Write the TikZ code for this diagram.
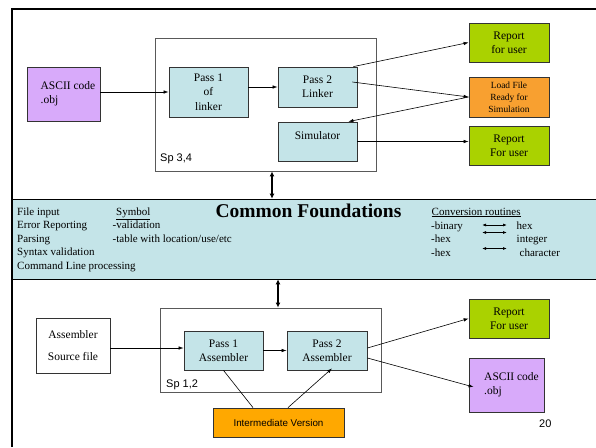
\documentclass[tikz,border=0pt]{standalone}
\usepackage{fontspec}
\setmainfont{Liberation Serif}
\newfontfamily\arialf{Liberation Sans}
\usetikzlibrary{arrows.meta,calc}
\definecolor{lightcyan}{RGB}{196,228,232}
\definecolor{lilac}{RGB}{216,170,250}
\definecolor{lime}{RGB}{170,210,0}
\definecolor{amber}{RGB}{248,160,48}
\definecolor{gold}{RGB}{255,168,0}
\begin{document}
\begin{tikzpicture}[x=1pt,y=-1pt,
  box/.style={draw=black!80, line width=0.8pt, inner sep=0pt, align=center,
    font=\fontsize{11.5}{14.3}\selectfont},
  passbox/.style={box, fill=lightcyan},
  userbox/.style={box, fill=lime, minimum width=80pt, minimum height=39pt},
  objbox/.style={box, fill=lilac, minimum height=54pt, align=left},
  container/.style={draw=black!65, line width=0.9pt, inner sep=0pt},
  flow/.style={line width=0.6pt, -{Latex[length=5pt,width=3.5pt]}},
  link/.style={line width=0.6pt},
  twoway/.style={line width=1.6pt, {Latex[length=5pt,width=5pt]}-{Latex[length=5pt,width=5pt]}},
  conv/.style={line width=0.8pt, {Latex[length=4pt,width=3pt]}-{Latex[length=4pt,width=3pt]}},
  bandtext/.style={anchor=base west, inner sep=0pt, font=\fontsize{11}{13.5}\selectfont},
  sans/.style={inner sep=0pt, font=\arialf\fontsize{11}{13}\selectfont}
]
\useasboundingbox (0,0) rectangle (596,447);

% slide frame
\draw[line width=2.2pt] (12,447) -- (12,9) -- (596,9);

% shared band
\node[draw=black, line width=0.7pt, fill=lightcyan, minimum width=584pt, minimum height=80pt, inner sep=0pt] (band) at (304,239) {};

% ---------- upper part: linker and simulator ----------
\node[container, minimum width=221pt, minimum height=133pt] (c1) at (265.5,104.5) {};
\node[sans, anchor=base west] (sp34) at (160,161) {Sp 3,4};

\node[objbox, minimum width=73pt] (asc1) at (63.5,94) {\hspace*{9pt}ASCII code\\\hspace*{9pt}.obj};
\node[passbox, minimum width=79pt, minimum height=50pt] (p1l) at (208.5,92) {Pass 1\\of\\linker};
\node[passbox, minimum width=79pt, minimum height=40pt] (p2l) at (317.5,87) {Pass 2\\Linker};
\node[passbox, minimum width=79pt, minimum height=39pt] (sim) at (317.5,141.5) {\raisebox{12pt}{Simulator}};
\node[userbox] (rep1) at (509,42.5) {Report\\for user};
\node[box, fill=amber, minimum width=80pt, minimum height=40pt, font=\fontsize{9.4}{12}\selectfont] (load) at (509,97) {Load File\\Ready for\\Simulation};
\node[userbox] (rep2) at (509,146) {Report\\For user};

\draw[flow] (p1l.west -| asc1.east) -- (p1l.west);
\draw[flow] (p2l.west -| p1l.east) -- (p2l.west);
\draw[flow] ($(p2l.north east)+(-4,0)$) -- (rep1.west);
\draw[flow] ($(p2l.east)+(-5,-5)$) -- (load.west);
\draw[flow] (load.west) -- ($(sim.north east)+(-9,0)$);
\draw[flow] (sim.east) -- (sim.east -| rep2.west);

% link between the upper part and the band
\coordinate (up1) at ($(c1.south)+(6.5,0)$);
\coordinate (up2) at (up1 |- band.north);
\draw[twoway] (up1) -- (up2);

% ---------- band text ----------
\node[bandtext] (t1) at (17,215) {File input};
\node[bandtext] (t2) at (17,228.5) {Error Reporting};
\node[bandtext] (t3) at (17,242) {Parsing};
\node[bandtext] (t4) at (17,255.5) {Syntax validation};
\node[bandtext] (t5) at (17,269) {Command Line processing};

\node[bandtext] (s1) at (116,215) {\underline{Symbol}};
\node[bandtext] (s2) at (112.5,228.5) {-validation};
\node[bandtext] (s3) at (112.5,242) {-table with location/use/etc};

\node[anchor=base, inner sep=0pt, font=\bfseries\fontsize{19.5}{22}\selectfont] (title) at (308.5,217) {Common Foundations};

\node[bandtext] (cr) at (431.5,215) {\underline{Conversion routines}};
\node[bandtext] (b1) at (431,229.5) {-binary};
\node[bandtext] (b2) at (431,242) {-hex};
\node[bandtext] (b3) at (431,256) {-hex};
\node[bandtext] (h1) at (516.5,229.5) {hex};
\node[bandtext] (h2) at (516.5,242) {integer};
\node[bandtext] (h3) at (519.5,256) {character};
\coordinate (a1l) at (482,225);   \coordinate (a1r) at (507,225);
\coordinate (a2l) at (482,232.5); \coordinate (a2r) at (507,232.5);
\coordinate (a3l) at (482,248.5); \coordinate (a3r) at (507,248.5);
\draw[conv] (a1l) -- (a1r);
\draw[conv] (a2l) -- (a2r);
\draw[conv] (a3l) -- (a3r);

% ---------- lower part: assembler ----------
\node[container, minimum width=221pt, minimum height=84pt] (c2) at (270.5,350) {};
\node[sans, anchor=base west] (sp12) at (166,387) {Sp 1,2};

\coordinate (lo1) at ($(c2.north)+(7.5,0)$);
\coordinate (lo2) at (lo1 |- band.south);
\draw[twoway] (lo2) -- (lo1);

\node[box, fill=white, minimum width=74pt, minimum height=55pt] (asm) at (73,345.5) {Assembler\\[7pt]Source file};
\node[passbox, minimum width=79pt, minimum height=39pt] (p1a) at (223.5,350.5) {Pass 1\\Assembler};
\node[passbox, minimum width=80pt, minimum height=39pt] (p2a) at (327,350.5) {Pass 2\\Assembler};
\node[userbox] (rep3) at (509,318.5) {Report\\For user};
\node[objbox, minimum width=75pt] (asc2) at (506.5,385) {\hspace*{10pt}ASCII code\\\hspace*{10pt}.obj};
\node[box, fill=gold, minimum width=131pt, minimum height=29pt, font=\arialf\fontsize{9.8}{12}\selectfont] (inter) at (278.5,422.5) {Intermediate Version};
\node[sans, anchor=base west] (pg) at (539,427) {20};

\coordinate (as1) at ($(asm.east)+(0,2.5)$);
\coordinate (as2) at (as1 -| p1a.west);
\draw[flow] (as1) -- (as2);
\draw[flow] (p1a.east) -- (p2a.west);
\draw[flow] ($(p2a.east)+(0,-2.5)$) -- (rep3.west);
\draw[flow] ($(p2a.east)+(0,7.5)$) -- ($(asc2.west)+(5,2)$);
\draw[link] (p1a.south) -- ($(inter.north)+(-25.5,0)$);
\draw[flow] ($(inter.north)+(9.5,0)$) -- ($(p2a.south)+(5,-2)$);

\end{tikzpicture}
\end{document}
